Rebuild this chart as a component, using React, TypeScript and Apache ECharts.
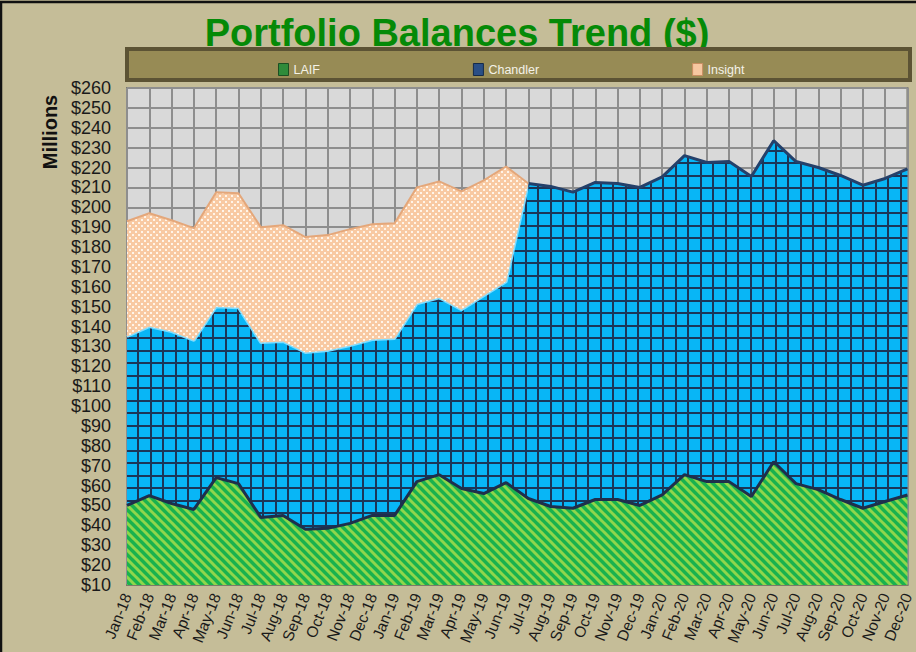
import React, { useEffect, useRef } from "react";
import * as echarts from "echarts";

const categories = [
  "Jan-18", "Feb-18", "Mar-18", "Apr-18", "May-18", "Jun-18", "Jul-18", "Aug-18", "Sep-18", "Oct-18", "Nov-18", "Dec-18",
  "Jan-19", "Feb-19", "Mar-19", "Apr-19", "May-19", "Jun-19", "Jul-19", "Aug-19", "Sep-19", "Oct-19", "Nov-19", "Dec-19",
  "Jan-20", "Feb-20", "Mar-20", "Apr-20", "May-20", "Jun-20", "Jul-20", "Aug-20", "Sep-20", "Oct-20", "Nov-20", "Dec-20",
];

// $ millions
const laif = [
  50, 55, 51, 48, 64, 61, 44, 45, 38, 38.5, 41, 45,
  45, 62, 65.5, 58.5, 56, 61.5, 53.5, 49.5, 48.6, 53, 53, 50,
  55.3, 65.5, 62, 62, 54.5, 72, 61, 58, 53, 48.6, 52, 55.3,
];
const chandler = [
  85, 85, 86.5, 85, 86, 88.5, 88, 87.5, 89, 89.5, 89.5, 88.5,
  89, 89.5, 89, 90, 99.5, 101, 158.5, 161, 159, 159.5, 159, 160,
  160, 160.5, 160.5, 161, 161, 161.5, 162, 162, 163, 162.5, 162.5, 164,
];
const insight = [
  58, 57, 56, 56.5, 57.5, 57.5, 58, 58.5, 58, 58, 58.5, 58,
  58, 58.5, 58.5, 59.5, 58, 58, 0, null, null, null, null, null,
  null, null, null, null, null, null, null, null, null, null, null, null,
];

const seriesNames = ["LAIF", "Chandler", "Insight"];
const yTicks = { min: 10, max: 260, interval: 10 };

function makeCanvas(w: number, h: number, draw: (ctx: CanvasRenderingContext2D) => void) {
  const c = document.createElement("canvas");
  c.width = w;
  c.height = h;
  const ctx = c.getContext("2d")!;
  draw(ctx);
  return c;
}

function gridPattern() {
  const c = makeCanvas(25, 25, (ctx) => {
    ctx.fillStyle = "#08B6F6";
    ctx.fillRect(0, 0, 25, 25);
    ctx.fillStyle = "#1B3658";
    ctx.fillRect(0, 0, 2, 25);
    ctx.fillRect(12, 0, 2, 25);
    ctx.fillRect(0, 0, 25, 2);
    ctx.fillRect(0, 12, 25, 2);
  });
  return { image: c, repeat: "repeat", imageWidth: 25, imageHeight: 25 };
}

function stripePattern() {
  const s = 9;
  const c = makeCanvas(s, s, (ctx) => {
    ctx.fillStyle = "#19B24E";
    ctx.fillRect(0, 0, s, s);
    ctx.strokeStyle = "#8FD64C";
    ctx.lineWidth = 3;
    for (let k = -1; k <= 1; k++) {
      ctx.beginPath();
      ctx.moveTo(k * s - 1, -1);
      ctx.lineTo(k * s + s + 1, s + 1);
      ctx.stroke();
    }
  });
  return { image: c, repeat: "repeat", imageWidth: s, imageHeight: s };
}

function dotPattern() {
  const c = makeCanvas(6, 6, (ctx) => {
    ctx.fillStyle = "#F8C9A2";
    ctx.fillRect(0, 0, 6, 6);
    ctx.fillStyle = "#FFF4E8";
    ctx.fillRect(0, 0, 2, 2);
    ctx.fillRect(3, 3, 2, 2);
  });
  return { image: c, repeat: "repeat", imageWidth: 6, imageHeight: 6 };
}

export default function App() {
  const ref = useRef<HTMLDivElement>(null);

  useEffect(() => {
    document.body.style.margin = "0";
    const chart = echarts.init(ref.current!, null, { renderer: "svg" });
    const font = "'Liberation Sans', Arial, sans-serif";
    const gridLeft = 127;
    const gridWidth = 781;
    // Chandler's top edge: under Insight it shows as a light glow, afterwards dark navy
    const stepPos = 18 / (categories.length - 1);
    const chandlerLine = {
      type: "linear",
      x: gridLeft,
      y: 0,
      x2: gridLeft + gridWidth,
      y2: 0,
      global: true,
      colorStops: [
        { offset: 0, color: "#7FDCFF" },
        { offset: stepPos - 0.001, color: "#7FDCFF" },
        { offset: stepPos, color: "#24406A" },
        { offset: 1, color: "#24406A" },
      ],
    };
    const option: any = {
      animation: false,
      backgroundColor: "#C5BD98",
      graphic: [
        {
          type: "rect",
          shape: { x: 1, y: 2, width: 940, height: 700 },
          style: { fill: "none", stroke: "#111", lineWidth: 2.5 },
          silent: true,
          z: 100,
        },
        {
          type: "rect",
          shape: { x: 127, y: 49, width: 783, height: 31 },
          style: { fill: "#978B55", stroke: "#5C5334", lineWidth: 4 },
          z: -1,
        },
        {
          type: "text",
          x: 457,
          y: 33,
          style: {
            text: "Portfolio Balances Trend ($)",
            font: `bold 38px ${font}`,
            fill: "#058A07",
            align: "center",
            verticalAlign: "middle",
          },
          z: -2,
        },
        {
          type: "text",
          x: 50,
          y: 132,
          rotation: Math.PI / 2,
          style: {
            text: "Millions",
            font: `bold 20px ${font}`,
            fill: "#111",
            align: "center",
            verticalAlign: "middle",
          },
        },
      ],
      legend: {
        left: 273,
        top: 58,
        icon: "rect",
        itemWidth: 10,
        itemHeight: 12,
        itemGap: 153,
        textStyle: { color: "#F4F2E8", fontSize: 12.5, fontFamily: font },
        data: [
          { name: "LAIF", itemStyle: { color: "#2E8B3A", borderColor: "#1B4F22", borderWidth: 1 } },
          { name: "Chandler", itemStyle: { color: "#2A4F86", borderColor: "#142A4A", borderWidth: 1 } },
          { name: "Insight", itemStyle: { color: "#F6C7A0", borderColor: "#C98E62", borderWidth: 1 } },
        ],
      },
      grid: {
        left: gridLeft,
        top: 88,
        width: gridWidth,
        height: 497,
        show: true,
        backgroundColor: "#D9D9D9",
        borderColor: "#7C7A6A",
        borderWidth: 2,
      },
      xAxis: {
        type: "category",
        data: categories,
        boundaryGap: false,
        axisLine: { show: true, lineStyle: { color: "#7C7A6A", width: 2 } },
        axisTick: { show: false },
        axisLabel: {
          interval: 0,
          rotate: 68,
          margin: 9,
          color: "#1A1A1A",
          fontSize: 15.5,
          fontFamily: font,
        },
        splitLine: { show: true, interval: 0, lineStyle: { color: "#8E8E8E", width: 2 } },
      },
      yAxis: {
        type: "value",
        min: yTicks.min,
        max: yTicks.max,
        interval: yTicks.interval,
        axisLine: { show: false },
        axisTick: { show: false },
        axisLabel: {
          formatter: "${value}",
          margin: 16,
          color: "#1A1A1A",
          fontSize: 18,
          fontFamily: font,
        },
        splitLine: { show: true, lineStyle: { color: "#8E8E8E", width: 2 } },
      },
      series: [
        {
          name: seriesNames[0],
          type: "line",
          stack: "total",
          data: laif,
          showSymbol: false,
          itemStyle: { color: "#2E8B3A" },
          lineStyle: { color: "#1E2F4C", width: 3 },
          areaStyle: { color: stripePattern(), opacity: 1 },
          z: 3,
        },
        {
          name: seriesNames[1],
          type: "line",
          stack: "total",
          data: chandler,
          showSymbol: false,
          itemStyle: { color: "#2A4F86" },
          lineStyle: { color: chandlerLine, width: 3 },
          areaStyle: { color: gridPattern(), opacity: 1 },
          z: 2,
        },
        {
          name: seriesNames[2],
          type: "line",
          stack: "total",
          data: insight,
          showSymbol: false,
          connectNulls: false,
          itemStyle: { color: "#F6C7A0" },
          lineStyle: { color: "#E4A77A", width: 2 },
          areaStyle: { color: dotPattern(), opacity: 1 },
          z: 4,
        },
      ],
    };
    chart.setOption(option);
    return () => chart.dispose();
  }, []);

  return <div ref={ref} style={{ width: 916, height: 652 }} />;
}
